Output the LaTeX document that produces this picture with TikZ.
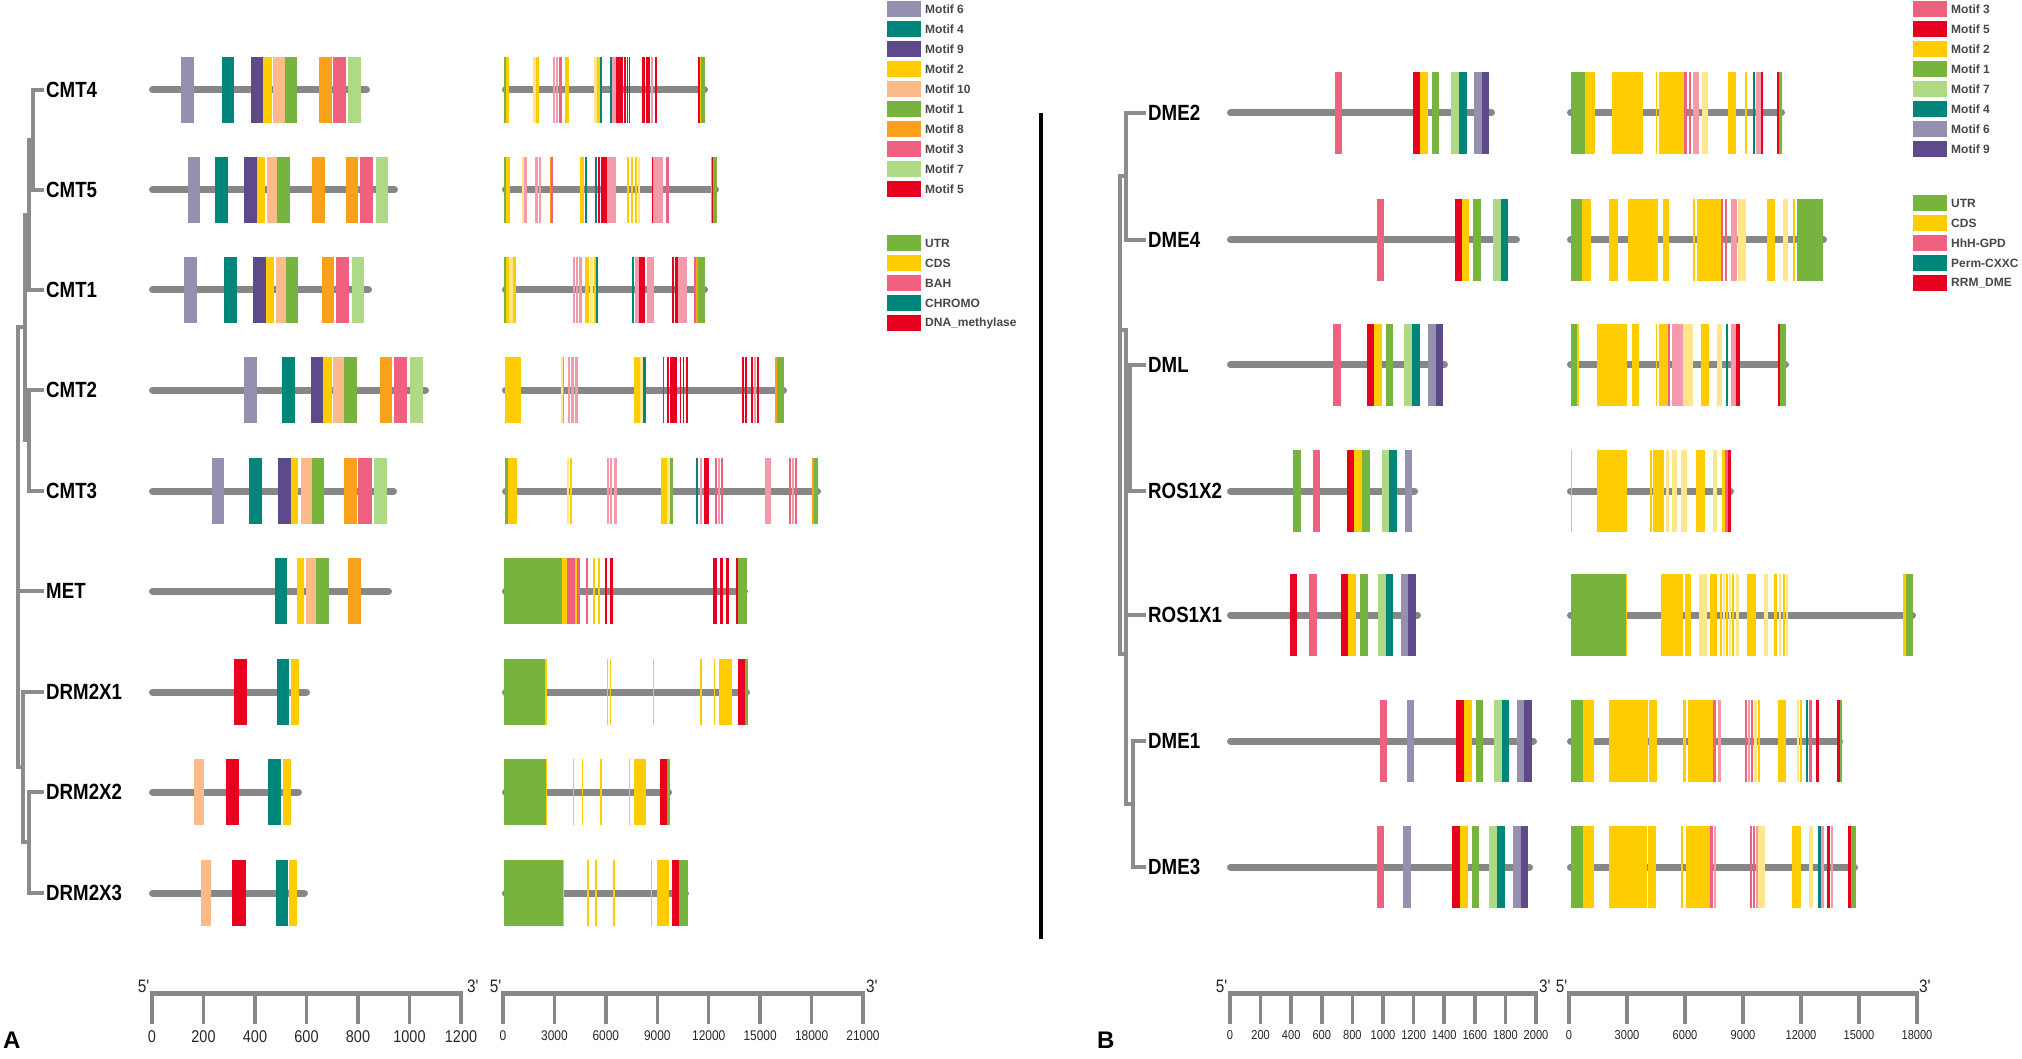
\documentclass[tikz,border=0pt]{standalone}
\usepackage{fontspec}
\setmainfont{Liberation Sans}
\newfontfamily\narrowsans[FakeStretch=0.85]{Liberation Sans}
\usetikzlibrary{positioning}

\definecolor{mot1}{HTML}{76B43E}
\definecolor{mot2}{HTML}{FFCC00}
\definecolor{mot3}{HTML}{F0607F}
\definecolor{mot4}{HTML}{00857A}
\definecolor{mot5}{HTML}{E8001F}
\definecolor{mot6}{HTML}{9590B0}
\definecolor{mot7}{HTML}{AED987}
\definecolor{mot8}{HTML}{F9A11B}
\definecolor{mot9}{HTML}{5E4A8B}
\definecolor{mot10}{HTML}{FDBA8A}
\colorlet{utr}{mot1}
\colorlet{cds}{mot2}
\colorlet{bah}{mot3}
\colorlet{chr}{mot4}
\colorlet{dna}{mot5}
\colorlet{org}{mot8}
\definecolor{lcds}{HTML}{FFE68A}
\definecolor{lbah}{HTML}{F59AAB}
\definecolor{linegray}{HTML}{878787}
\definecolor{treegray}{HTML}{8C8C8C}

\begin{document}
\begin{tikzpicture}[x=1pt, y=-1pt,
    gname/.style={font=\narrowsans\bfseries\fontsize{22}{22}\selectfont, anchor=west, inner xsep=2pt, inner ysep=0pt},
    tree/.style={line width=4pt, color=treegray},
    gline/.style={line width=7pt, color=linegray, line cap=round},
    axis/.style={line width=5pt, color=linegray},
    tick/.style={line width=3.5pt, color=linegray},
    legtext/.style={font=\bfseries\fontsize{12}{12}\selectfont, text=black!72, anchor=west, inner sep=0pt},
    axlabA/.style={font=\narrowsans\fontsize{17}{17}\selectfont, text=black!85, inner sep=0pt},
    axlabB/.style={font=\narrowsans\fontsize{13}{13}\selectfont, text=black!85, inner sep=0pt},
    endlab/.style={font=\narrowsans\fontsize{18}{18}\selectfont, text=black!85, inner sep=0pt}]

  \useasboundingbox (0,0) rectangle (2022,1059);

  % ---------------- panel A: gene names
  \node[gname] (CMT4) at (44,90) {CMT4};
  \node[gname] (CMT5) at (44,190) {CMT5};
  \node[gname] (CMT1) at (44,290) {CMT1};
  \node[gname] (CMT2) at (44,390) {CMT2};
  \node[gname] (CMT3) at (44,491) {CMT3};
  \node[gname] (MET) at (44,591) {MET};
  \node[gname] (DRM2X1) at (44,692) {DRM2X1};
  \node[gname] (DRM2X2) at (44,792) {DRM2X2};
  \node[gname] (DRM2X3) at (44,893) {DRM2X3};

  % tree A
  \coordinate (a1) at (33,140);
  \coordinate (a2) at (29,215);
  \coordinate (a3) at (29,440);
  \coordinate (a4) at (25,327);
  \coordinate (a5) at (29,842);
  \coordinate (a6) at (23,767);
  \coordinate (a0) at (18,547);
  \draw[tree] (CMT4.west) -| (a1) |- (CMT5.west);
  \draw[tree] (a1) -| (a2) |- (CMT1.west);
  \draw[tree] (CMT2.west) -| (a3) |- (CMT3.west);
  \draw[tree] (a2) -| (a4) |- (a3);
  \draw[tree] (DRM2X2.west) -| (a5) |- (DRM2X3.west);
  \draw[tree] (DRM2X1.west) -| (a6) |- (a5);
  \draw[tree] (a4) -| (a0) |- (a6);
  \draw[tree] (a0 |- MET.west) -- (MET.west);

  % protein motifs A
  \draw[gline] (152.5,90) -- (366.5,90);
  \foreach \a/\b/\c in {181/194/mot6, 222/234/mot4, 251/263/mot9, 263/272/mot2, 273/285/mot10, 285/297/mot1, 319/332/mot8, 333/346/mot3, 348/361/mot7}
    \fill[fill=\c] (\a,57) rectangle (\b,123);
  \draw[gline] (152.5,190) -- (394.5,190);
  \foreach \a/\b/\c in {188/200/mot6, 215/228/mot4, 244/257/mot9, 257/265/mot2, 267/277/mot10, 277/290/mot1, 312/325/mot8, 346/358/mot8, 360/373/mot3, 376/388/mot7}
    \fill[fill=\c] (\a,157) rectangle (\b,223);
  \draw[gline] (152.5,290) -- (368.5,290);
  \foreach \a/\b/\c in {184/197/mot6, 224/237/mot4, 253/266/mot9, 266/274/mot2, 276/286/mot10, 286/298/mot1, 322/334/mot8, 336/349/mot3, 352/364/mot7}
    \fill[fill=\c] (\a,257) rectangle (\b,323);
  \draw[gline] (152.5,390) -- (425.5,390);
  \foreach \a/\b/\c in {244/257/mot6, 282/295/mot4, 311/323/mot9, 323/332/mot2, 333/344/mot10, 344/357/mot1, 380/392/mot8, 394/407/mot3, 410/423/mot7}
    \fill[fill=\c] (\a,357) rectangle (\b,423);
  \draw[gline] (152.5,491) -- (393.5,491);
  \foreach \a/\b/\c in {212/224/mot6, 249/262/mot4, 278/291/mot9, 291/298/mot2, 301/312/mot10, 312/324/mot1, 344/357/mot8, 358/372/mot3, 374/387/mot7}
    \fill[fill=\c] (\a,458) rectangle (\b,524);
  \draw[gline] (152.5,591) -- (388.5,591);
  \foreach \a/\b/\c in {275/287/mot4, 297/304/mot2, 306/316/mot10, 316/329/mot1, 348/361/mot8}
    \fill[fill=\c] (\a,558) rectangle (\b,624);
  \draw[gline] (152.5,692) -- (306.5,692);
  \foreach \a/\b/\c in {234/247/mot5, 277/289/mot4, 291/299/mot2}
    \fill[fill=\c] (\a,659) rectangle (\b,725);
  \draw[gline] (152.5,792) -- (298.5,792);
  \foreach \a/\b/\c in {194/204/mot10, 226/239/mot5, 268/281/mot4, 283/291/mot2}
    \fill[fill=\c] (\a,759) rectangle (\b,825);
  \draw[gline] (152.5,893) -- (304.5,893);
  \foreach \a/\b/\c in {201/211/mot10, 232/246/mot5, 276/288/mot4, 289/297/mot2}
    \fill[fill=\c] (\a,860) rectangle (\b,926);

  % gene structures A
  \draw[gline] (505.5,90) -- (704.5,90);
  \foreach \a/\b/\c in {504/506/utr, 506/509/cds, 533/536/lcds, 536/539/cds, 553/555/lbah, 556/558/lbah, 559/562/bah, 565/569/cds, 594/597/lcds, 597/600/cds, 600/602/chr, 610/612/chr, 612/616/lbah, 616/623/dna, 624/626/dna, 627/628/dna, 629/630/dna, 642/645/dna, 646/650/dna, 651/653/lbah, 655/657/dna, 698/700/dna, 700/701/cds, 701/705/utr}
    \fill[fill=\c] (\a,57) rectangle (\b,123);
  \draw[gline] (505.5,190) -- (715.5,190);
  \foreach \a/\b/\c in {504/506/utr, 506/510/cds, 522/524/lcds, 524/527/lbah, 535/538/lbah, 539/541/lbah, 550/551/org, 551/553/bah, 580/584/cds, 585/587/chr, 595/597/chr, 598/600/dna, 601/607/dna, 607/616/lbah, 627/629/cds, 631/633/cds, 635/637/cds, 638/640/lcds, 652/653/dna, 653/663/lbah, 666/669/bah, 711/712/org, 712/713/dna, 713/717/utr}
    \fill[fill=\c] (\a,157) rectangle (\b,223);
  \draw[gline] (505.5,290) -- (704.5,290);
  \foreach \a/\b/\c in {504/506/utr, 506/509/cds, 509/513/lcds, 513/516/cds, 573/575/lbah, 576/578/lbah, 579/582/lbah, 585/589/cds, 590/593/lcds, 594/596/cds, 596/598/chr, 632/634/chr, 635/639/lbah, 639/645/dna, 647/654/lbah, 672/674/dna, 675/678/dna, 678/687/lbah, 694/696/bah, 696/698/org, 698/705/utr}
    \fill[fill=\c] (\a,257) rectangle (\b,323);
  \draw[gline] (505.5,390) -- (783.5,390);
  \foreach \a/\b/\c in {505/521/cds, 561/563/lcds, 563/564/org, 568/570/lbah, 571/574/lbah, 575/578/lbah, 634/640/cds, 640/643/lcds, 643/646/chr, 663/664/chr, 667/669/dna, 670/677/dna, 680/681/dna, 683/684/dna, 686/688/dna, 742/744/dna, 745/747/dna, 751/753/dna, 754/756/lbah, 757/759/dna, 775/777/org, 777/784/utr}
    \fill[fill=\c] (\a,357) rectangle (\b,423);
  \draw[gline] (505.5,491) -- (817.5,491);
  \foreach \a/\b/\c in {505/508/utr, 508/517/cds, 567/569/lcds, 570/572/cds, 607/609/lbah, 610/612/lbah, 614/617/lbah, 661/667/cds, 667/670/lcds, 670/673/utr, 696/698/chr, 700/702/lbah, 704/709/dna, 715/717/bah, 718/720/lbah, 721/723/bah, 765/771/lbah, 789/791/bah, 792/794/lbah, 795/797/bah, 812/814/org, 814/818/utr}
    \fill[fill=\c] (\a,458) rectangle (\b,524);
  \draw[gline] (505.5,591) -- (744.5,591);
  \foreach \a/\b/\c in {504/562/utr, 562/567/cds, 567/575/bah, 575/577/cds, 577/580/bah, 586/588/bah, 593/595/cds, 598/600/cds, 605/607/dna, 610/613/dna, 713/717/dna, 720/723/dna, 726/729/dna, 736/738/dna, 738/747/utr}
    \fill[fill=\c] (\a,558) rectangle (\b,624);
  \draw[gline] (505.5,692) -- (746.5,692);
  \foreach \a/\b/\c in {504/545/utr, 545/547/cds, 607/608/cds, 610/611/cds, 653/654/cds, 700/702/cds, 714/715/cds, 719/732/cds, 738/745/dna, 745/748/utr}
    \fill[fill=\c] (\a,659) rectangle (\b,725);
  \draw[gline] (505.5,792) -- (668.5,792);
  \foreach \a/\b/\c in {504/546/utr, 546/547/cds, 573/574/cds, 582/583/cds, 600/602/cds, 629/630/cds, 634/646/cds, 660/667/dna, 667/670/utr}
    \fill[fill=\c] (\a,759) rectangle (\b,825);
  \draw[gline] (505.5,893) -- (685.5,893);
  \foreach \a/\b/\c in {504/563/utr, 563/564/cds, 587/589/cds, 595/597/cds, 613/615/cds, 651/652/cds, 657/669/cds, 672/679/dna, 679/688/utr}
    \fill[fill=\c] (\a,860) rectangle (\b,926);

  % legend A
  \foreach \t/\c [count=\i from 0] in {Motif 6/mot6, Motif 4/mot4, Motif 9/mot9, Motif 2/mot2, Motif 10/mot10, Motif 1/mot1, Motif 8/mot8, Motif 3/mot3, Motif 7/mot7, Motif 5/mot5} {
    \fill[fill=\c] (887,1+20*\i) rectangle (921,17+20*\i);
    \node[legtext] (legAm\i) at (925,9+20*\i) {\t};
  }
  \foreach \t/\c [count=\i from 0] in {UTR/utr, CDS/cds, BAH/bah, CHROMO/chr, DNA\_methylase/dna} {
    \fill[fill=\c] (887,235+20*\i) rectangle (921,251+20*\i);
    \node[legtext] (legAg\i) at (925,243+20*\i) {\t};
  }

  % scales A
  \foreach \lab [count=\i from 0] in {0,200,400,600,800,1000,1200}
    \draw[tick] (152+51.5*\i,993) -- (152+51.5*\i,1024) node[axlabA, below=5pt] (sAp\i) {\lab};
  \draw[axis] (150,993) -- (463,993);
  \node[endlab, anchor=east] (sAp5) at (150,986) {5\textquotesingle};
  \node[endlab, anchor=west] (sAp3) at (467,986) {3\textquotesingle};
  \foreach \lab [count=\i from 0] in {0,3000,6000,9000,12000,15000,18000,21000}
    \draw[tick] (503+51.43*\i,993) -- (503+51.43*\i,1024) node[axlabB, font=\narrowsans\fontsize{14}{14}\selectfont, below=5pt] (sAg\i) {\lab};
  \draw[axis] (501,993) -- (865,993);
  \node[endlab, anchor=east] (sAg5) at (502,986) {5\textquotesingle};
  \node[endlab, anchor=west] (sAg3) at (866,986) {3\textquotesingle};

  \node[font=\bfseries\fontsize{24}{24}\selectfont, anchor=west, inner sep=0pt] (panA) at (3,1040) {A};

  % separator
  \draw[line width=4.5pt] (1041,113) -- (1041,939);

  % ---------------- panel B: gene names
  \node[gname] (DME2) at (1146,113) {DME2};
  \node[gname] (DME4) at (1146,240) {DME4};
  \node[gname] (DML) at (1146,365) {DML};
  \node[gname] (ROS1X2) at (1146,491) {ROS1X2};
  \node[gname] (ROS1X1) at (1146,615) {ROS1X1};
  \node[gname] (DME1) at (1146,741) {DME1};
  \node[gname] (DME3) at (1146,867) {DME3};

  % tree B
  \coordinate (b1) at (1126,176);
  \coordinate (b2) at (1130,428);
  \coordinate (b3) at (1126,330);
  \coordinate (b4) at (1133,804);
  \coordinate (b5) at (1126,654);
  \coordinate (b0) at (1120,415);
  \draw[tree] (DME2.west) -| (b1) |- (DME4.west);
  \draw[tree] (DML.west) -| (b2) |- (ROS1X2.west);
  \draw[tree] (DME1.west) -| (b4) |- (DME3.west);
  \draw[tree] (b1) -| (b0) |- (b5);
  \draw[tree] (b0 |- b3) -- (b3) |- (b4);
  \draw[tree] (b3 |- b2) -- (b2);
  \draw[tree] (b3 |- ROS1X1.west) -- (ROS1X1.west);

  % protein motifs B
  \draw[gline] (1230.5,113) -- (1491.5,113);
  \foreach \a/\b/\c in {1335/1342/mot3, 1413/1420/mot5, 1420/1428/mot2, 1432/1439/mot1, 1451/1459/mot7, 1459/1467/mot4, 1474/1482/mot6, 1482/1489/mot9}
    \fill[fill=\c] (\a,72) rectangle (\b,154);
  \draw[gline] (1230.5,240) -- (1516.5,240);
  \foreach \a/\b/\c in {1377/1384/mot3, 1455/1462/mot5, 1462/1469/mot2, 1473/1481/mot1, 1493/1501/mot7, 1501/1508/mot4}
    \fill[fill=\c] (\a,199) rectangle (\b,281);
  \draw[gline] (1230.5,365) -- (1444.5,365);
  \foreach \a/\b/\c in {1333/1341/mot3, 1367/1374/mot5, 1374/1382/mot2, 1386/1393/mot1, 1404/1412/mot7, 1412/1420/mot4, 1428/1436/mot6, 1436/1443/mot9}
    \fill[fill=\c] (\a,324) rectangle (\b,406);
  \draw[gline] (1230.5,491) -- (1414.5,491);
  \foreach \a/\b/\c in {1293/1301/mot1, 1313/1320/mot3, 1347/1354/mot5, 1354/1362/mot2, 1362/1370/mot1, 1382/1389/mot7, 1389/1397/mot4, 1405/1412/mot6}
    \fill[fill=\c] (\a,450) rectangle (\b,532);
  \draw[gline] (1230.5,615) -- (1417.5,615);
  \foreach \a/\b/\c in {1290/1297/mot5, 1309/1317/mot3, 1341/1348/mot5, 1348/1356/mot2, 1360/1368/mot1, 1378/1386/mot7, 1386/1393/mot4, 1401/1408/mot6, 1408/1416/mot9}
    \fill[fill=\c] (\a,574) rectangle (\b,656);
  \draw[gline] (1230.5,741) -- (1533.5,741);
  \foreach \a/\b/\c in {1380/1387/mot3, 1407/1414/mot6, 1456/1464/mot5, 1464/1472/mot2, 1476/1483/mot1, 1494/1502/mot7, 1502/1509/mot4, 1517/1524/mot6, 1524/1532/mot9}
    \fill[fill=\c] (\a,700) rectangle (\b,782);
  \draw[gline] (1230.5,867) -- (1529.5,867);
  \foreach \a/\b/\c in {1377/1384/mot3, 1403/1411/mot6, 1452/1460/mot5, 1460/1468/mot2, 1472/1479/mot1, 1489/1497/mot7, 1497/1505/mot4, 1513/1521/mot6, 1521/1528/mot9}
    \fill[fill=\c] (\a,826) rectangle (\b,908);

  % gene structures B
  \draw[gline] (1570.5,113) -- (1781.5,113);
  \foreach \a/\b/\c in {1571/1585/utr, 1585/1595/cds, 1612/1643/cds, 1656/1657/cds, 1659/1684/cds, 1684/1687/bah, 1689/1691/bah, 1693/1699/lbah, 1702/1708/lcds, 1728/1736/cds, 1745/1747/cds, 1753/1755/chr, 1756/1761/lbah, 1761/1763/dna, 1777/1779/dna, 1779/1782/utr}
    \fill[fill=\c] (\a,72) rectangle (\b,154);
  \draw[gline] (1570.5,240) -- (1823.5,240);
  \foreach \a/\b/\c in {1571/1582/utr, 1582/1591/cds, 1609/1618/cds, 1628/1658/cds, 1663/1669/cds, 1693/1695/cds, 1697/1721/cds, 1721/1723/bah, 1725/1727/bah, 1731/1737/lbah, 1738/1746/lcds, 1767/1775/cds, 1783/1788/lcds, 1793/1795/cds, 1797/1823/utr}
    \fill[fill=\c] (\a,199) rectangle (\b,281);
  \draw[gline] (1570.5,365) -- (1785.5,365);
  \foreach \a/\b/\c in {1571/1577/utr, 1577/1579/cds, 1597/1627/cds, 1632/1639/cds, 1656/1657/cds, 1659/1668/cds, 1668/1670/bah, 1672/1683/lbah, 1683/1693/lcds, 1701/1709/cds, 1717/1722/lcds, 1726/1728/chr, 1731/1736/lbah, 1736/1740/dna, 1778/1780/dna, 1780/1786/utr}
    \fill[fill=\c] (\a,324) rectangle (\b,406);
  \draw[gline] (1570.5,491) -- (1730.5,491);
  \foreach \a/\b/\c in {1571/1572/cds, 1597/1627/cds, 1650/1652/cds, 1653/1664/cds, 1666/1669/lcds, 1672/1677/lcds, 1681/1687/lcds, 1696/1705/cds, 1713/1717/lcds, 1722/1725/cds, 1725/1728/bah, 1728/1731/dna}
    \fill[fill=\c] (\a,450) rectangle (\b,532);
  \draw[gline] (1570.5,615) -- (1912.5,615);
  \foreach \a/\b/\c in {1571/1626/utr, 1626/1627/cds, 1661/1683/cds, 1685/1691/cds, 1699/1707/lcds, 1710/1717/cds, 1720/1722/cds, 1723/1725/lcds, 1726/1728/cds, 1729/1731/lcds, 1732/1734/cds, 1736/1739/lcds, 1747/1756/cds, 1764/1768/lcds, 1774/1777/cds, 1779/1781/lcds, 1783/1785/cds, 1786/1788/lcds, 1903/1906/cds, 1906/1913/utr}
    \fill[fill=\c] (\a,574) rectangle (\b,656);
  \draw[gline] (1570.5,741) -- (1839.5,741);
  \foreach \a/\b/\c in {1571/1583/utr, 1583/1594/cds, 1609/1648/cds, 1649/1657/cds, 1683/1686/cds, 1688/1713/cds, 1713/1716/bah, 1718/1721/lbah, 1745/1747/bah, 1748/1750/lbah, 1751/1753/bah, 1754/1757/lcds, 1758/1760/cds, 1778/1786/cds, 1797/1799/lcds, 1800/1802/cds, 1806/1808/chr, 1809/1812/bah, 1816/1819/dna, 1837/1840/dna, 1840/1842/utr}
    \fill[fill=\c] (\a,700) rectangle (\b,782);
  \draw[gline] (1570.5,867) -- (1854.5,867);
  \foreach \a/\b/\c in {1571/1583/utr, 1583/1594/cds, 1609/1647/cds, 1648/1656/cds, 1681/1683/cds, 1686/1710/cds, 1710/1713/bah, 1714/1716/lbah, 1750/1752/bah, 1753/1755/bah, 1756/1758/lbah, 1758/1765/lcds, 1792/1801/cds, 1809/1813/lcds, 1818/1821/chr, 1821/1824/lbah, 1827/1830/dna, 1831/1833/lbah, 1848/1851/dna, 1851/1856/utr}
    \fill[fill=\c] (\a,826) rectangle (\b,908);

  % legend B
  \foreach \t/\c [count=\i from 0] in {Motif 3/mot3, Motif 5/mot5, Motif 2/mot2, Motif 1/mot1, Motif 7/mot7, Motif 4/mot4, Motif 6/mot6, Motif 9/mot9} {
    \fill[fill=\c] (1913,1+20*\i) rectangle (1947,17+20*\i);
    \node[legtext] (legBm\i) at (1951,9+20*\i) {\t};
  }
  \foreach \t/\c [count=\i from 0] in {UTR/utr, CDS/cds, HhH-GPD/bah, Perm-CXXC/chr, RRM\_DME/dna} {
    \fill[fill=\c] (1913,195+20*\i) rectangle (1947,211+20*\i);
    \node[legtext] (legBg\i) at (1951,203+20*\i) {\t};
  }

  % scales B
  \foreach \lab [count=\i from 0] in {0,200,400,600,800,1000,1200,1400,1600,1800,2000}
    \draw[tick] (1230+30.6*\i,993) -- (1230+30.6*\i,1024) node[axlabB, below=5pt] (sBp\i) {\lab};
  \draw[axis] (1228,993) -- (1538,993);
  \node[endlab, anchor=east] (sBp5) at (1228,986) {5\textquotesingle};
  \node[endlab, anchor=west] (sBp3) at (1539,986) {3\textquotesingle};
  \foreach \lab [count=\i from 0] in {0,3000,6000,9000,12000,15000,18000}
    \draw[tick] (1569+58*\i,993) -- (1569+58*\i,1024) node[axlabB, below=5pt] (sBg\i) {\lab};
  \draw[axis] (1567,993) -- (1919,993);
  \node[endlab, anchor=east] (sBg5) at (1568,986) {5\textquotesingle};
  \node[endlab, anchor=west] (sBg3) at (1919,986) {3\textquotesingle};

  \node[font=\bfseries\fontsize{24}{24}\selectfont, anchor=west, inner sep=0pt] (panB) at (1097,1040) {B};

\end{tikzpicture}
\end{document}
